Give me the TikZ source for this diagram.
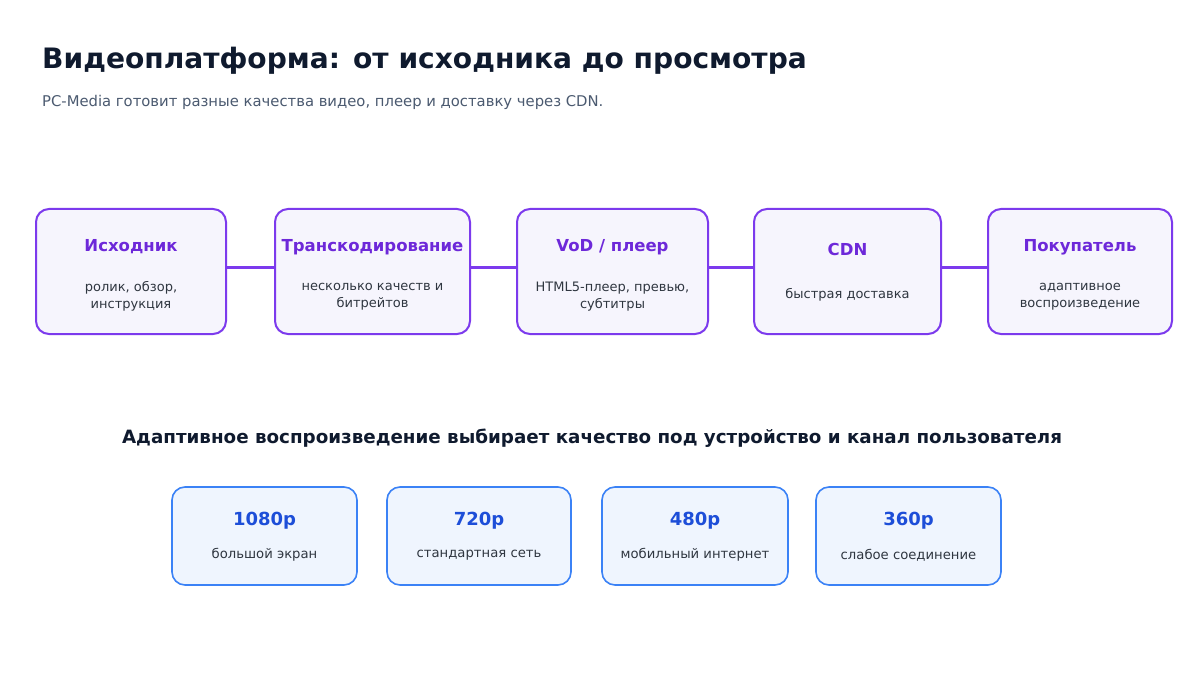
\documentclass[tikz,border=0pt]{standalone}
\usepackage{fontspec}
\setmainfont{DejaVu Sans}
\begin{document}
\begin{tikzpicture}[x=1pt,y=-1pt,
  stage/.style={draw=stageborder,line width=2pt,fill=stagefill,rounded corners=13pt,minimum height=125pt,inner sep=0pt},
  qual/.style={draw=qualborder,line width=1.6pt,fill=qualfill,rounded corners=13pt,minimum height=98pt,inner sep=0pt},
  sttl/.style={font=\bfseries\fontsize{16.5}{20}\selectfont,text=stagetitle},
  sdesc/.style={font=\fontsize{13}{17.5}\selectfont,text=desctext,align=center},
  qttl/.style={font=\bfseries\fontsize{18}{22}\selectfont,text=qualtitle},
  qdesc/.style={font=\fontsize{13.2}{16}\selectfont,text=desctext},
  link/.style={draw=stageborder,line width=3pt}]
\definecolor{stageborder}{HTML}{7C3AED}
\definecolor{stagefill}{HTML}{F6F5FD}
\definecolor{stagetitle}{HTML}{6D28D9}
\definecolor{desctext}{HTML}{2F3640}
\definecolor{qualborder}{HTML}{3B82F6}
\definecolor{qualfill}{HTML}{EFF5FE}
\definecolor{qualtitle}{HTML}{1D4ED8}
\definecolor{titletext}{HTML}{0F1A2E}
\definecolor{subtext}{HTML}{4B5A70}
\useasboundingbox[fill=white] (0,0) rectangle (1200,679);
\node[anchor=west,font=\bfseries\fontsize{28.1}{32}\selectfont,text=titletext,inner sep=0pt] (title) at (42,61) {Видеоплатформа: от исходника до просмотра};
\node[anchor=west,font=\fontsize{14.8}{18}\selectfont,text=subtext,inner sep=0pt] (sub) at (42,102.5) {PC-Media готовит разные качества видео, плеер и доставку через CDN.};
% stages
\node[stage,minimum width=190pt] (s1) at (131,271.5) {};
\node[stage,minimum width=195pt] (s2) at (372.5,271.5) {};
\node[stage,minimum width=191pt] (s3) at (612.5,271.5) {};
\node[stage,minimum width=187pt] (s4) at (847.5,271.5) {};
\node[stage,minimum width=184pt] (s5) at (1080,271.5) {};
\draw[link] (s1.east |- 0,268) -- (s2.west |- 0,268);
\draw[link] (s2.east |- 0,268) -- (s3.west |- 0,268);
\draw[link] (s3.east |- 0,268) -- (s4.west |- 0,268);
\draw[link] (s4.east |- 0,268) -- (s5.west |- 0,268);
\node[sttl] (t1) at (131,247) {Исходник};
\node[sttl] (t2) at (372.5,247) {Транскодирование};
\node[sttl] (t3) at (612.5,247) {VoD / плеер};
\node[sttl] (t4) at (847.5,249) {CDN};
\node[sttl] (t5) at (1080,247) {Покупатель};
\node[sdesc] (d1) at (131,296.5) {ролик, обзор,\\инструкция};
\node[sdesc] (d2) at (372.5,296.5) {несколько качеств и\\битрейтов};
\node[sdesc] (d3) at (612.5,296.5) {HTML5-плеер, превью,\\субтитры};
\node[sdesc] (d4) at (847.5,294.5) {быстрая доставка};
\node[sdesc] (d5) at (1080,296.5) {адаптивное\\воспроизведение};
% heading
\node[font=\bfseries\fontsize{18.3}{22}\selectfont,text=titletext] (head) at (592,438) {Адаптивное воспроизведение выбирает качество под устройство и канал пользователя};
% qualities
\node[qual,minimum width=185pt] (q1) at (264.5,536) {};
\node[qual,minimum width=184pt] (q2) at (479,536) {};
\node[qual,minimum width=186pt] (q3) at (695,536) {};
\node[qual,minimum width=185pt] (q4) at (908.5,536) {};
\node[qttl] (qt1) at (264.5,521) {1080p};
\node[qttl] (qt2) at (479,521) {720p};
\node[qttl] (qt3) at (695,521) {480p};
\node[qttl] (qt4) at (908.5,521) {360p};
\node[qdesc] (qd1) at (264.5,555) {большой экран};
\node[qdesc] (qd2) at (479,555) {стандартная сеть};
\node[qdesc] (qd3) at (695,555) {мобильный интернет};
\node[qdesc] (qd4) at (908.5,555) {слабое соединение};
\end{tikzpicture}
\end{document}
